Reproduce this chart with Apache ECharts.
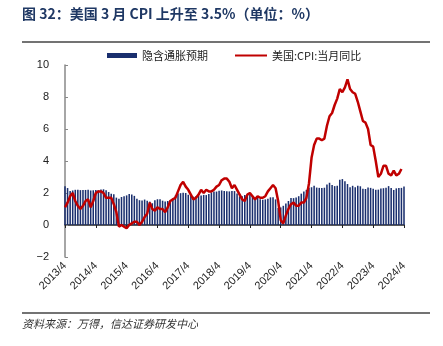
<!DOCTYPE html>
<html><head><meta charset="utf-8">
<script src="https://cdn.jsdelivr.net/npm/echarts@6/dist/echarts.min.js"></script>
<style>html,body{margin:0;padding:0;background:#fff}#c{width:443px;height:346px}</style>
</head><body><div id="c"></div>
<script>
const titleText = '图 32：美国 3 月 CPI 上升至 3.5%（单位：%）';
const sourceText = '资料来源：万得，信达证券研发中心';
const seriesNames = ['隐含通胀预期', '美国:CPI:当月同比'];
const yTicks = [-2, 0, 2, 4, 6, 8, 10];

// months 2013/4 .. 2024/4
const categories = [];
for (let y = 2013; y <= 2024; y++) {
  for (let m = 1; m <= 12; m++) {
    if (y === 2013 && m < 4) continue;
    if (y === 2024 && m > 4) continue;
    categories.push(y + '/' + m);
  }
}

const breakeven = [
  2.42,2.31,2.13,2.16,2.20,2.21,2.18,2.18,2.19,
  2.21,2.16,2.17,2.19,2.17,2.22,2.23,2.17,2.06,1.96,1.92,1.71,
  1.64,1.75,1.79,1.85,1.93,1.91,1.82,1.64,1.55,1.53,1.59,1.52,
  1.46,1.36,1.55,1.61,1.61,1.52,1.47,1.50,1.56,1.66,1.84,1.97,
  1.99,2.02,2.00,1.89,1.86,1.77,1.80,1.82,1.84,1.88,1.87,1.93,
  2.04,2.10,2.09,2.14,2.16,2.12,2.11,2.10,2.12,2.12,1.97,1.79,
  1.79,1.87,1.89,1.91,1.83,1.69,1.71,1.61,1.58,1.60,1.64,1.73,
  1.73,1.60,1.07,1.10,1.20,1.34,1.50,1.68,1.68,1.72,1.80,1.96,
  2.09,2.20,2.33,2.36,2.46,2.34,2.32,2.32,2.33,2.53,2.64,2.50,
  2.43,2.45,2.83,2.87,2.73,2.56,2.36,2.45,2.36,2.45,2.42,2.26,
  2.25,2.35,2.32,2.26,2.20,2.21,2.28,2.30,2.33,2.43,2.32,2.19,
  2.29,2.31,2.32,2.40
];

const cpi = [
  1.1,1.4,1.8,2.0,1.5,1.2,1.0,1.2,1.5,
  1.6,1.1,1.5,2.0,2.1,2.1,2.0,1.7,1.7,1.7,1.3,0.8,
  -0.1,0.0,-0.1,-0.2,0.0,0.1,0.2,0.2,0.0,0.2,0.5,0.7,
  1.4,1.0,0.9,1.1,1.0,1.0,0.8,1.1,1.5,1.6,1.7,2.1,
  2.5,2.7,2.4,2.2,1.9,1.6,1.7,1.9,2.2,2.0,2.2,2.1,
  2.1,2.2,2.4,2.5,2.8,2.9,2.9,2.7,2.3,2.5,2.2,1.9,
  1.6,1.5,1.9,2.0,1.8,1.6,1.8,1.7,1.7,1.8,2.1,2.3,
  2.5,2.3,1.5,0.3,0.1,0.6,1.0,1.3,1.4,1.2,1.2,1.4,
  1.4,1.7,2.6,4.2,5.0,5.4,5.4,5.3,5.4,6.2,6.8,7.0,
  7.5,7.9,8.5,8.3,8.6,9.1,8.5,8.3,8.2,7.7,7.1,6.5,
  6.4,6.0,5.0,4.9,4.0,3.0,3.2,3.7,3.7,3.2,3.1,3.4,
  3.1,3.2,3.5
];

const chart = echarts.init(document.getElementById('c'), null, {renderer: 'canvas'});
const yearLabel = (v) => { const p = v.split('/'); return p[0] + '/4'; };
const legendText = {fontSize: 11, color: '#222', fontFamily: '"Noto Sans CJK SC", sans-serif'};
chart.setOption({
  animation: false,
  textStyle: {fontFamily: 'Liberation Sans, Arial, sans-serif'},
  graphic: [
    {type: 'text', left: 22, top: 7, style: {text: titleText, fill: '#1f3864', font: 'bold 14px "Noto Sans CJK SC", sans-serif'}},
    {type: 'line', shape: {x1: 22, y1: 42, x2: 430, y2: 42}, style: {stroke: '#444', lineWidth: 1.5}},
    {type: 'line', shape: {x1: 22, y1: 313, x2: 430, y2: 313}, style: {stroke: '#444', lineWidth: 1.5}},
    {type: 'text', left: 22, top: 318, style: {text: sourceText, fill: '#333', font: 'italic 11px "Noto Sans CJK SC", sans-serif'}}
  ],
  legend: [
    {top: 45, left: 102, itemWidth: 30, itemHeight: 5, textStyle: legendText,
     data: [{name: seriesNames[0], icon: 'rect'}]},
    {top: 45, left: 230, itemWidth: 32, itemHeight: 2, textStyle: legendText,
     data: [{name: seriesNames[1], icon: 'rect'}]}
  ],
  grid: {left: 65, right: 39, top: 65, bottom: 89, containLabel: false},
  xAxis: [
    {
      type: 'category', data: categories, boundaryGap: false, position: 'bottom',
      axisLine: {show: false, onZero: false}, axisTick: {show: false},
      axisLabel: {interval: 11, rotate: 45, fontSize: 11, color: '#222', formatter: yearLabel, margin: 7}
    },
    {
      type: 'category', data: categories, boundaryGap: false, position: 'bottom',
      axisLine: {show: true, onZero: true, lineStyle: {color: '#222', width: 1.5}},
      axisTick: {show: true, interval: 11, length: 3, lineStyle: {color: '#222'}},
      axisLabel: {show: false}
    }
  ],
  yAxis: {
    type: 'value', min: -2, max: 10, interval: 2,
    axisLine: {show: true, lineStyle: {color: '#888', width: 1.5}},
    axisTick: {show: true, inside: true, length: 3, lineStyle: {color: '#888'}},
    axisLabel: {fontSize: 11, color: '#222', margin: 16, formatter: (v) => v < 0 ? '\u2212' + Math.abs(v) : String(v)},
    splitLine: {show: false}
  },
  series: [
    {name: seriesNames[0], type: 'bar', data: breakeven, barWidth: '60%', itemStyle: {color: '#1a2f6e'}},
    {name: seriesNames[1], type: 'line', data: cpi, symbol: 'none', lineStyle: {color: '#c00000', width: 2.5}, itemStyle: {color: '#c00000'}}
  ]
});
</script></body></html>
